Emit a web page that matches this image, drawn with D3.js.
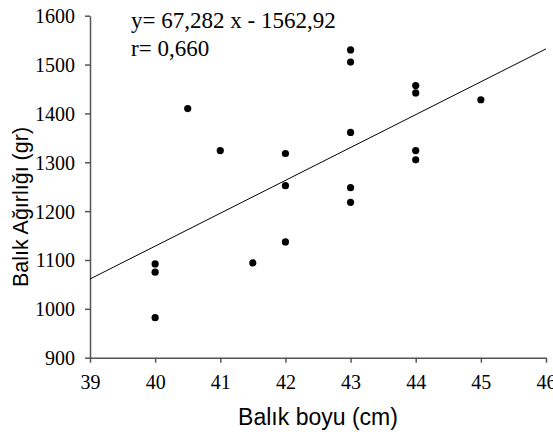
<!DOCTYPE html>
<html>
<head>
<meta charset="utf-8">
<script src="https://cdn.jsdelivr.net/npm/d3@7"></script>
<style>
  body { margin: 0; background: #fff; }
  .tick text { font-family: "Liberation Serif", "Times New Roman", serif; font-size: 20px; fill: #000; }
</style>
</head>
<body>
<div id="chart"></div>
<script>
// fish length (cm) and weight (gr)
var boy = [40.5, 41, 43, 43, 44, 44, 45, 43, 42, 44, 44, 42, 43, 43, 42, 40, 40, 40, 41.5];
var agirlik = [1410, 1324, 1530, 1505, 1457, 1442, 1428, 1361, 1318, 1324, 1305, 1252, 1248, 1218, 1137, 1092, 1075, 982, 1094];
// regression line y = a x + b
var egim = 67.282, sabit = -1562.92;
var xTicks = [39, 40, 41, 42, 43, 44, 45, 46];
var yTicks = [900, 1000, 1100, 1200, 1300, 1400, 1500, 1600];

var width = 553, height = 437;
var mLeft = 90, mRight = 546, mTop = 15.7, mBottom = 357.7;

var svg = d3.select("#chart").append("svg")
    .attr("width", width)
    .attr("height", height);

var x = d3.scaleLinear().domain([39, 46]).range([mLeft, mRight]);
var y = d3.scaleLinear().domain([900, 1600]).range([mBottom, mTop]);

var xAxis = svg.append("g")
    .attr("transform", "translate(0," + mBottom + ")")
    .call(d3.axisBottom(x).tickValues(xTicks).tickFormat(d3.format("d")).tickSize(5).tickSizeOuter(0).tickPadding(12));
var yAxis = svg.append("g")
    .attr("transform", "translate(" + mLeft + ",0)")
    .call(d3.axisLeft(y).tickValues(yTicks).tickFormat(d3.format("d")).tickSize(5).tickSizeOuter(0).tickPadding(10));

svg.selectAll(".domain").attr("stroke", "#555").attr("stroke-width", 1.5);
svg.selectAll(".tick line").attr("stroke", "#555").attr("stroke-width", 1.5);
yAxis.selectAll(".tick text").attr("dy", "0.35em");

// trend line
var x0 = 39, x1 = 46;
svg.append("line")
    .attr("x1", x(x0)).attr("y1", y(egim * x0 + sabit))
    .attr("x2", x(x1)).attr("y2", y(egim * x1 + sabit))
    .attr("stroke", "#000").attr("stroke-width", 1);

svg.selectAll("circle.pt")
    .data(boy)
    .enter().append("circle")
    .attr("class", "pt")
    .attr("cx", function(d) { return x(d); })
    .attr("cy", function(d, i) { return y(agirlik[i]); })
    .attr("r", 3.6)
    .attr("fill", "#000");

// equation text
var eq = svg.append("g").attr("font-family", "Liberation Serif, Times New Roman, serif").attr("font-size", "23px");
eq.append("text").attr("x", 131).attr("y", 28).text("y= 67,282 x - 1562,92");
eq.append("text").attr("x", 131).attr("y", 56).text("r= 0,660");

// axis titles
svg.append("text")
    .attr("x", 318).attr("y", 425)
    .attr("text-anchor", "middle")
    .attr("font-family", "Liberation Sans, Arial, sans-serif")
    .attr("font-size", "23px")
    .text("Balık boyu (cm)");

svg.append("text")
    .attr("transform", "translate(28,207) rotate(-90)")
    .attr("text-anchor", "middle")
    .attr("font-family", "Liberation Sans, Arial, sans-serif")
    .attr("font-size", "21.5px")
    .text("Balık Ağırlığı (gr)");
</script>
</body>
</html>
